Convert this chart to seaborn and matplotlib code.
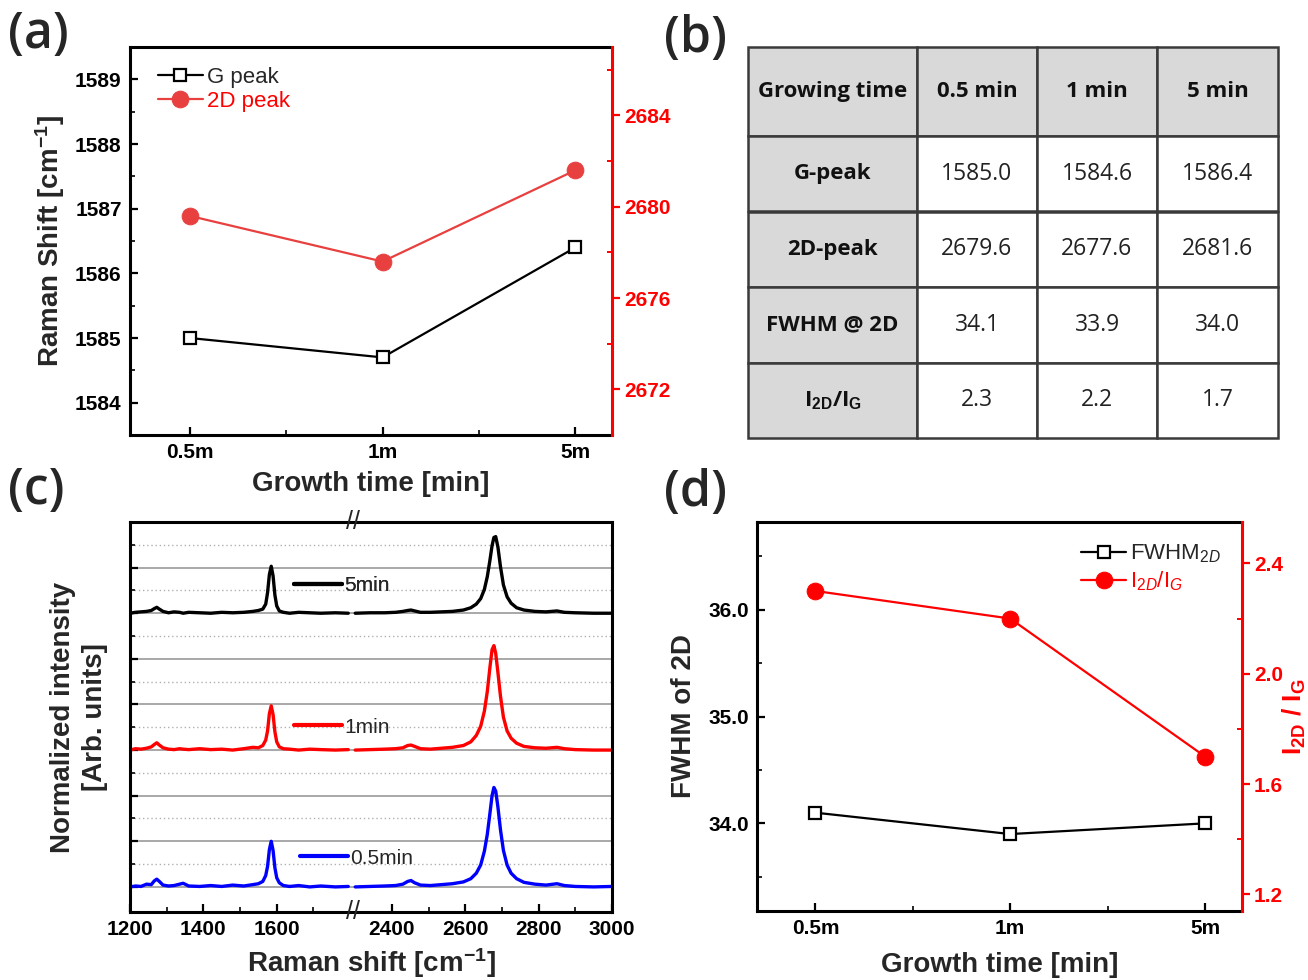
import numpy as np
import matplotlib
matplotlib.use('Agg')
import matplotlib.pyplot as plt
import matplotlib.transforms as mtransforms
from matplotlib import font_manager
from matplotlib.ticker import MultipleLocator, FixedLocator
import seaborn as sns

# ------------------------------------------------------------------ data
times = ['0.5m', '1m', '5m']
g_peak = [1585.0, 1584.7, 1586.4]
d2_peak = [2679.6, 2677.6, 2681.6]
fwhm_2d = [34.1, 33.9, 34.0]
i2d_ig = [2.3, 2.2, 1.7]

table_cols = ['Growing time', '0.5 min', '1 min', '5 min']
table_rows = ['G-peak', '2D-peak', 'FWHM @ 2D', r'I$_{\mathbf{2D}}$/I$_{\mathbf{G}}$']
table_g = ['1585.0', '1584.6', '1586.4']
table_2d = ['2679.6', '2677.6', '2681.6']
table_fwhm = ['34.1', '33.9', '34.0']
table_ratio = ['2.3', '2.2', '1.7']

spec_labels = ['0.5min', '1min', '5min']
spec_offsets = [0, 3, 6]

x_low = [1200, 1215, 1230, 1245, 1258, 1266, 1273, 1280, 1290, 1305, 1320, 1335, 1345,
         1360, 1390, 1420, 1450, 1480, 1510, 1535, 1550, 1562, 1570, 1575, 1580, 1585,
         1590, 1595, 1600, 1607, 1618, 1635, 1660, 1690, 1720, 1760, 1795]
x_high = [2300, 2340, 2380, 2410, 2430, 2443, 2452, 2462, 2478, 2505, 2535, 2565, 2595,
          2615, 2630, 2642, 2652, 2660, 2667, 2673, 2678, 2683, 2689, 2696, 2704, 2714,
          2725, 2740, 2760, 2790, 2820, 2850, 2870, 2900, 2950, 3000]

int_05_low = [0.00, 0.02, 0.01, 0.06, 0.05, 0.13, 0.17, 0.12, 0.04, 0.02, 0.03, 0.06, 0.08,
              0.02, 0.01, 0.03, 0.01, 0.04, 0.02, 0.05, 0.07, 0.12, 0.25, 0.45, 0.82, 1.00,
              0.80, 0.42, 0.20, 0.09, 0.03, 0.01, 0.03, 0.00, 0.02, 0.00, 0.01]
int_1_low = [0.00, 0.03, 0.02, 0.04, 0.07, 0.12, 0.16, 0.11, 0.05, 0.02, 0.01, 0.03, 0.02,
             0.01, 0.03, 0.01, 0.02, 0.00, 0.03, 0.06, 0.05, 0.10, 0.22, 0.42, 0.80, 0.97,
             0.78, 0.40, 0.18, 0.07, 0.03, 0.02, 0.00, 0.02, 0.01, 0.00, 0.01]
int_5_low = [0.00, 0.02, 0.03, 0.04, 0.06, 0.10, 0.13, 0.09, 0.04, 0.01, 0.03, 0.02, 0.00,
             0.02, 0.01, 0.00, 0.02, 0.01, 0.02, 0.04, 0.06, 0.09, 0.20, 0.45, 0.85, 1.03,
             0.82, 0.40, 0.16, 0.05, 0.02, 0.00, 0.02, 0.01, 0.00, 0.01, 0.00]

int_05_high = [0.00, 0.01, 0.02, 0.03, 0.06, 0.12, 0.14, 0.09, 0.04, 0.03, 0.05, 0.07, 0.11,
               0.18, 0.30, 0.48, 0.78, 1.15, 1.60, 2.00, 2.18, 2.10, 1.75, 1.25, 0.80, 0.48,
               0.30, 0.18, 0.10, 0.06, 0.04, 0.07, 0.03, 0.01, 0.00, 0.01]
int_1_high = [0.00, 0.01, 0.02, 0.03, 0.05, 0.10, 0.11, 0.08, 0.03, 0.02, 0.04, 0.06, 0.10,
              0.18, 0.32, 0.52, 0.85, 1.28, 1.80, 2.20, 2.29, 2.12, 1.70, 1.18, 0.72, 0.42,
              0.26, 0.15, 0.08, 0.05, 0.04, 0.06, 0.03, 0.01, 0.00, 0.00]
int_5_high = [0.00, 0.01, 0.01, 0.02, 0.04, 0.06, 0.07, 0.05, 0.02, 0.02, 0.03, 0.04, 0.07,
              0.12, 0.20, 0.32, 0.52, 0.80, 1.15, 1.48, 1.66, 1.68, 1.45, 1.02, 0.62, 0.36,
              0.22, 0.12, 0.07, 0.04, 0.03, 0.05, 0.02, 0.01, 0.00, 0.00]

c_xticks = [1200, 1400, 1600, 2400, 2600, 2800, 3000]
c_xminor = [1300, 1500, 1700, 2500, 2700, 2900]

# ------------------------------------------------------------------ style
sns.set_theme(style='ticks')
names = {f.name for f in font_manager.fontManager.ttflist}
NARROW = 'Liberation Sans Narrow' if 'Liberation Sans Narrow' in names else 'Liberation Sans'
TABLE_FONT = 'Open Sans' if 'Open Sans' in names else 'Liberation Sans'
plt.rcParams['font.family'] = ['Liberation Sans', 'DejaVu Sans']
plt.rcParams['mathtext.fontset'] = 'custom'
plt.rcParams['mathtext.rm'] = 'Liberation Sans'
plt.rcParams['mathtext.it'] = 'Liberation Sans:italic'
plt.rcParams['mathtext.bf'] = 'Liberation Sans:bold'
plt.rcParams['axes.unicode_minus'] = True

W, H = 1308, 980
fig = plt.figure(figsize=(W / 100, H / 100), dpi=100)
fig.patch.set_facecolor('white')

RED_A = '#e8403f'
RED = '#ff0000'
TICK_FS = 17 if NARROW != 'Liberation Sans' else 15
LABEL_FS = 20


def rect(l, t, r, b):
    return [l / W, 1 - b / H, (r - l) / W, (b - t) / H]


def tick_font(labels):
    for lab in labels:
        lab.set_fontfamily(NARROW)
        lab.set_fontweight('bold')


def style_main(ax):
    for s in ax.spines.values():
        s.set_linewidth(2.2)
        s.set_color('black')
    ax.tick_params(which='major', direction='in', length=6, width=1.6, colors='black',
                   labelsize=TICK_FS, top=False, right=False, pad=6)
    ax.tick_params(which='minor', direction='in', length=3.5, width=1.4, top=False, right=False)
    tick_font(ax.get_xticklabels() + ax.get_yticklabels())


def style_twin(ax2, color):
    for k in ['left', 'top', 'bottom']:
        ax2.spines[k].set_visible(False)
    ax2.spines['right'].set_color(color)
    ax2.spines['right'].set_linewidth(2.2)
    ax2.tick_params(which='major', direction='out', length=6, width=1.6, colors=color,
                    labelsize=TICK_FS, pad=2.5)
    ax2.tick_params(which='minor', direction='in', length=3.5, width=1.4, colors=color)
    tick_font(ax2.get_yticklabels())


# ------------------------------------------------------------------ (a)
axA = fig.add_axes(rect(130, 47, 612, 435))
axA2 = axA.twinx()
axA2.set_position(rect(130, 47, 612, 435))
sns.lineplot(x=times, y=g_peak, ax=axA, sort=False, color='black', marker='s', markersize=9,
             markerfacecolor='white', markeredgecolor='black', markeredgewidth=1.6,
             linewidth=1.6, label='G peak', legend=False)
sns.lineplot(x=times, y=d2_peak, ax=axA2, sort=False, color=RED_A, marker='o', markersize=12,
             markerfacecolor=RED_A, markeredgecolor=RED_A, linewidth=1.6,
             label='2D peak', legend=False)
axA.set_xlim(-0.31, 2.19)
axA.set_ylim(1583.5, 1589.5)
axA.set_yticks([1584, 1585, 1586, 1587, 1588, 1589])
axA.yaxis.set_minor_locator(MultipleLocator(0.5))
axA.xaxis.set_minor_locator(FixedLocator([0.5, 1.5]))
axA2.set_ylim(2670, 2687)
axA2.set_yticks([2672, 2676, 2680, 2684])
axA2.yaxis.set_minor_locator(FixedLocator([2674, 2678, 2682, 2686]))
axA.spines['right'].set_visible(False)
style_main(axA)
style_twin(axA2, RED)
axA.set_xlabel('Growth time [min]', fontsize=LABEL_FS, fontweight='bold', labelpad=6)
axA.set_ylabel(r'Raman Shift [cm$^{\mathbf{-1}}$]', fontsize=LABEL_FS, fontweight='bold',
               labelpad=6)
legA = axA2.legend(handles=[axA.lines[0], axA2.lines[0]], labels=['G peak', '2D peak'],
                   loc='upper left', bbox_to_anchor=(0.04, 0.972), frameon=False,
                   handlelength=2.0, handletextpad=0.2, labelspacing=0.15, borderaxespad=0,
                   prop={'family': NARROW, 'size': 16})
legA.get_texts()[1].set_color(RED)

# ------------------------------------------------------------------ (b) table
axB = fig.add_axes(rect(748, 47, 1278, 438))
axB.axis('off')
cell_text = [table_cols,
             [table_rows[0]] + table_g,
             [table_rows[1]] + table_2d,
             [table_rows[2]] + table_fwhm,
             [table_rows[3]] + table_ratio]
tbl = axB.table(cellText=cell_text, cellLoc='center', bbox=[0, 0, 1, 1],
                colWidths=[169, 120, 120, 121])
tbl.auto_set_font_size(False)
for (r, c), cell in tbl.get_celld().items():
    cell.set_edgecolor('#3a3a3a')
    cell.set_linewidth(1.8)
    cell.set_height(89 if r == 0 else 75.5)
    txt = cell.get_text()
    if r == 0 or c == 0:
        cell.set_facecolor('#d9d9d9')
        txt.set_fontproperties(font_manager.FontProperties(family=[TABLE_FONT, 'DejaVu Sans'],
                                                           weight='bold', size=16))
        txt.set_color('#111111')
    else:
        cell.set_facecolor('white')
        txt.set_fontproperties(font_manager.FontProperties(family=[TABLE_FONT, 'DejaVu Sans'],
                                                           weight='normal', size=16.5))
        txt.set_color('#222222')

# ------------------------------------------------------------------ (c) spectra
BRK_LO, BRK_HI, GAP = 1800.0, 2300.0, 14.0


def fwd(x):
    x = np.asarray(x, dtype=float)
    return np.where(x <= BRK_LO, x,
                    np.where(x >= BRK_HI, x - (BRK_HI - BRK_LO) + GAP,
                             BRK_LO + (x - BRK_LO) * GAP / (BRK_HI - BRK_LO)))


def inv(u):
    u = np.asarray(u, dtype=float)
    return np.where(u <= BRK_LO, u,
                    np.where(u >= BRK_LO + GAP, u + (BRK_HI - BRK_LO) - GAP,
                             BRK_LO + (u - BRK_LO) * (BRK_HI - BRK_LO) / GAP))


axC = fig.add_axes(rect(130, 522, 612, 912))
spectra = [(int_05_low, int_05_high, '#0000ff'),
           (int_1_low, int_1_high, RED),
           (int_5_low, int_5_high, 'black')]
spec_lines = []
for (lo, hi, col), off in zip(spectra, spec_offsets):
    sns.lineplot(x=x_low, y=np.array(lo) + off, ax=axC, sort=False, color=col,
                 linewidth=2.4, legend=False)
    spec_lines.append(axC.lines[-1])
    sns.lineplot(x=x_high, y=np.array(hi) + off, ax=axC, sort=False, color=col,
                 linewidth=2.4, legend=False)
axC.set_xscale('function', functions=(fwd, inv))
axC.set_xlim(1200, 3000)
axC.set_ylim(-0.55, 8.0)
axC.set_xticks(c_xticks)
axC.set_xticklabels([str(v) for v in c_xticks])
axC.xaxis.set_minor_locator(FixedLocator(c_xminor))
axC.yaxis.set_major_locator(FixedLocator(list(range(0, 8))))
axC.yaxis.set_minor_locator(FixedLocator([v + 0.5 for v in range(0, 8)]))
axC.set_yticklabels([])
axC.set_axisbelow(True)
axC.grid(which='major', axis='y', color='#9a9a9a', linewidth=1.2, linestyle='-')
axC.grid(which='minor', axis='y', color='#b0b0b0', linewidth=1.0, linestyle=(0, (1, 2)))
axC.grid(which='major', axis='x', visible=False)
style_main(axC)
axC.set_xlabel(r'Raman shift [cm$^{\mathbf{-1}}$]', fontsize=LABEL_FS, fontweight='bold',
               labelpad=5)
axC.set_ylabel('Normalized intensity\n[Arb. units]', fontsize=LABEL_FS, fontweight='bold',
               labelpad=10, linespacing=1.3)
brk = mtransforms.blended_transform_factory(axC.transData, axC.transAxes)
for yy in (1.0, 0.0):
    axC.text(2050, yy, '//', transform=brk, ha='center', va='center', fontsize=18,
             clip_on=False, zorder=10)
leg_pos = [(0.352, 0.138), (0.34, 0.474), (0.34, 0.836)]
for line, lab, (lx, ly) in zip(spec_lines, spec_labels, leg_pos):
    lg = axC.legend(handles=[line], labels=[lab], loc='center left', bbox_to_anchor=(lx, ly),
                    frameon=False, handlelength=2.3, handletextpad=0.1, borderaxespad=0,
                    borderpad=0, prop={'family': NARROW, 'size': 15})
    for l in lg.get_lines():
        l.set_linewidth(3)
    axC.add_artist(lg)

# ------------------------------------------------------------------ (d)
axD = fig.add_axes(rect(757, 522, 1242, 911))
axD2 = axD.twinx()
axD2.set_position(rect(757, 522, 1242, 911))
sns.lineplot(x=times, y=fwhm_2d, ax=axD, sort=False, color='black', marker='s', markersize=9,
             markerfacecolor='white', markeredgecolor='black', markeredgewidth=1.6,
             linewidth=1.6, legend=False)
sns.lineplot(x=times, y=i2d_ig, ax=axD2, sort=False, color=RED, marker='o', markersize=12,
             markerfacecolor=RED, markeredgecolor=RED, linewidth=1.6, legend=False)
axD.set_xlim(-0.30, 2.19)
axD.set_ylim(33.18, 36.82)
axD.set_yticks([34.0, 35.0, 36.0])
axD.set_yticklabels(['34.0', '35.0', '36.0'])
axD.yaxis.set_minor_locator(FixedLocator([33.5, 34.5, 35.5, 36.5]))
axD.xaxis.set_minor_locator(FixedLocator([0.5, 1.5]))
axD2.set_ylim(1.14, 2.55)
axD2.set_yticks([1.2, 1.6, 2.0, 2.4])
axD2.set_yticklabels(['1.2', '1.6', '2.0', '2.4'])
axD2.yaxis.set_minor_locator(FixedLocator([1.4, 1.8, 2.2]))
axD.spines['right'].set_visible(False)
style_main(axD)
style_twin(axD2, RED)
axD.set_xlabel('Growth time [min]', fontsize=LABEL_FS, fontweight='bold', labelpad=10)
axD.set_ylabel('FWHM of 2D', fontsize=LABEL_FS, fontweight='bold', labelpad=8)
axD2.set_ylabel(r'I$_{\mathbf{2D}}$ / I$_{\mathbf{G}}$', fontsize=19, fontweight='bold',
                color=RED)
axD2.yaxis.set_label_coords(1.08, 0.5)
legD = axD2.legend(handles=[axD.lines[0], axD2.lines[0]],
                   labels=[r'FWHM$_{2D}$', r'I$_{2D}$/I$_{G}$'],
                   loc='upper right', bbox_to_anchor=(0.975, 0.97), frameon=False,
                   handlelength=2.0, handletextpad=0.2, labelspacing=0.2, borderaxespad=0,
                   prop={'family': NARROW, 'size': 16})
legD.get_texts()[1].set_color(RED)

# ------------------------------------------------------------------ panel labels
for txt, x, y in [('(a)', 8, 10), ('(b)', 664, 14), ('(c)', 8, 466), ('(d)', 664, 468)]:
    fig.text(x / W, 1 - y / H, txt, fontsize=36, ha='left', va='top',
             family=['Open Sans', 'DejaVu Sans'], fontweight='semibold')

fig.savefig('out.png', dpi=100, facecolor='white')
